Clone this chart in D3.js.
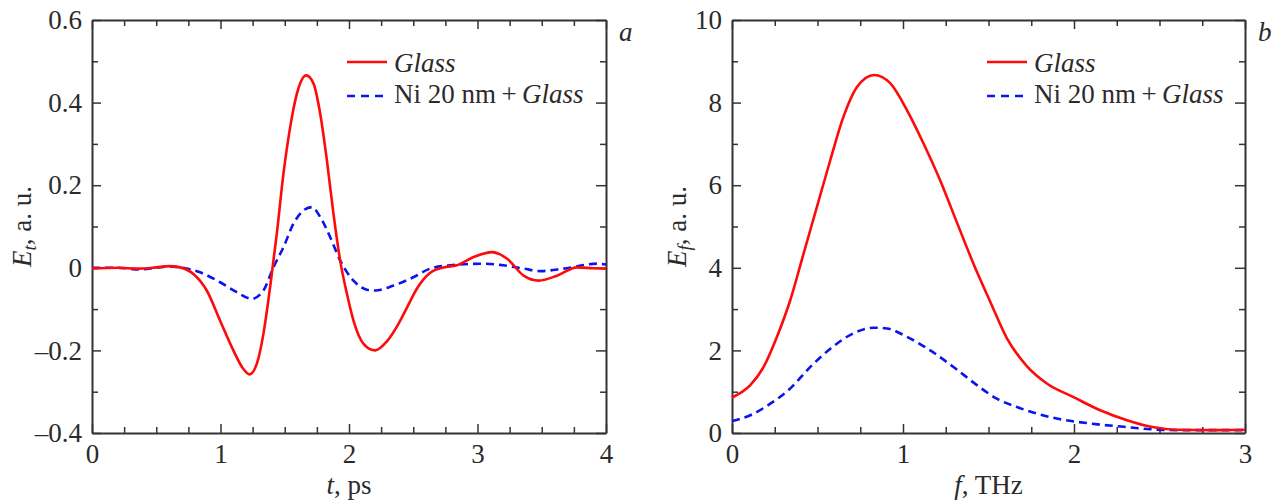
<!DOCTYPE html>
<html>
<head>
<meta charset="utf-8">
<script src="https://cdn.jsdelivr.net/npm/d3@7"></script>
<style>
  html, body { margin: 0; padding: 0; background: #fff; }
  svg { display: block; }
  text { font-family: "Liberation Serif", "Times New Roman", serif; fill: #2b2b2b; }
</style>
</head>
<body>
<svg id="chart" width="1278" height="504"></svg>
<script>
// ---------- Data: panel a (time domain) ----------
const timeGlassT = [0, 0.2, 0.35, 0.5, 0.6, 0.685, 0.789, 0.893, 0.997, 1.10, 1.178, 1.225, 1.283, 1.334, 1.386, 1.438, 1.49, 1.542, 1.594, 1.667, 1.724, 1.776, 1.828, 1.879, 1.931, 1.984, 2.035, 2.113, 2.204, 2.295, 2.386, 2.45, 2.529, 2.632, 2.736, 2.84, 2.97, 3.113, 3.23, 3.359, 3.476, 3.619, 3.775, 3.9, 4.0];
const timeGlassE = [-0.002, 0.0, -0.002, 0.001, 0.004, 0.001, -0.015, -0.055, -0.128, -0.2, -0.245, -0.258, -0.232, -0.16, -0.047, 0.082, 0.228, 0.34, 0.421, 0.466, 0.446, 0.373, 0.26, 0.131, 0.018, -0.063, -0.128, -0.184, -0.2, -0.178, -0.135, -0.097, -0.05, -0.012, 0.001, 0.006, 0.026, 0.038, 0.022, -0.019, -0.031, -0.019, 0.001, -0.001, -0.002];

const timeNiT = [0, 0.2, 0.37, 0.5, 0.6, 0.685, 0.841, 0.997, 1.127, 1.244, 1.334, 1.412, 1.49, 1.568, 1.646, 1.711, 1.776, 1.854, 1.931, 2.035, 2.139, 2.204, 2.347, 2.5, 2.632, 2.788, 3.048, 3.2, 3.36, 3.489, 3.67, 3.93, 4.0];
const timeNiE = [0, 0, -0.004, 0.0, 0.003, 0.001, -0.011, -0.035, -0.059, -0.075, -0.055, 0.001, 0.05, 0.107, 0.139, 0.147, 0.123, 0.074, 0.018, -0.031, -0.053, -0.055, -0.043, -0.023, -0.002, 0.006, 0.01, 0.006, -0.002, -0.008, -0.002, 0.01, 0.008];

// ---------- Data: panel b (frequency domain) ----------
const freqGlassF = [0, 0.107, 0.185, 0.263, 0.341, 0.419, 0.497, 0.575, 0.652, 0.731, 0.832, 0.925, 1.023, 1.12, 1.217, 1.315, 1.412, 1.51, 1.607, 1.724, 1.841, 1.997, 2.153, 2.31, 2.45, 2.6, 2.8, 3.0];
const freqGlassE = [0.86, 1.16, 1.60, 2.33, 3.22, 4.35, 5.48, 6.61, 7.66, 8.38, 8.67, 8.47, 7.82, 7.01, 6.12, 5.1, 4.1, 3.18, 2.3, 1.62, 1.20, 0.87, 0.55, 0.31, 0.15, 0.08, 0.07, 0.08];

const freqNiF = [0, 0.107, 0.224, 0.341, 0.458, 0.575, 0.69, 0.828, 0.906, 1.023, 1.159, 1.295, 1.432, 1.549, 1.666, 1.743, 1.9, 2.094, 2.29, 2.45, 2.6, 3.0];
const freqNiE = [0.29, 0.43, 0.71, 1.08, 1.60, 2.04, 2.37, 2.55, 2.53, 2.33, 2.0, 1.6, 1.16, 0.83, 0.63, 0.52, 0.35, 0.23, 0.15, 0.09, 0.07, 0.07];

// ---------- Ticks ----------
const aXTicks = [0, 1, 2, 3, 4];
const aXMinor = [0.25, 0.5, 0.75, 1.25, 1.5, 1.75, 2.25, 2.5, 2.75, 3.25, 3.5, 3.75];
const aYTicks = [-0.4, -0.2, 0, 0.2, 0.4, 0.6];
const aYTickLabels = ["\u20130.4", "\u20130.2", "0", "0.2", "0.4", "0.6"];
const aYMinor = [-0.3, -0.1, 0.1, 0.3, 0.5];

const bXTicks = [0, 1, 2, 3];
const bXMinor = [0.25, 0.5, 0.75, 1.25, 1.5, 1.75, 2.25, 2.5, 2.75];
const bYTicks = [0, 2, 4, 6, 8, 10];
const bYTickLabels = ["0", "2", "4", "6", "8", "10"];
const bYMinor = [1, 3, 5, 7, 9];

const legendLabels = ["Glass", "Ni 20 nm\u2009+\u2009"];
const legendItalic = ["", "Glass"];

const svg = d3.select("#chart");
const FS = 27;
const AXIS_COLOR = "#333";

function drawPanel(cfg) {
  const x = d3.scaleLinear().domain(cfg.xDomain).range([cfg.left, cfg.right]);
  const y = d3.scaleLinear().domain(cfg.yDomain).range([cfg.bottom, cfg.top]);
  const g = svg.append("g");

  function styleAxis(sel) {
    sel.selectAll("path.domain").attr("stroke", AXIS_COLOR).attr("stroke-width", 2);
    sel.selectAll(".tick line").attr("stroke", AXIS_COLOR).attr("stroke-width", 1.5);
    sel.selectAll(".tick text").style("font-size", FS + "px").attr("fill", "#2b2b2b")
      .style("font-family", '"Liberation Serif", serif');
  }

  const bottom = g.append("g").attr("transform", `translate(0,${cfg.bottom})`)
    .call(d3.axisBottom(x).tickValues(cfg.xTicks).tickSizeInner(-9).tickSizeOuter(0).tickPadding(11).tickFormat(d3.format("d")));
  styleAxis(bottom);
  const bottomMinor = g.append("g").attr("transform", `translate(0,${cfg.bottom})`)
    .call(d3.axisBottom(x).tickValues(cfg.xMinor).tickSizeInner(-6).tickSizeOuter(0).tickFormat(""));
  styleAxis(bottomMinor); bottomMinor.select("path.domain").remove();

  const top = g.append("g").attr("transform", `translate(0,${cfg.top})`)
    .call(d3.axisTop(x).tickValues(cfg.xTicks).tickSizeInner(-9).tickSizeOuter(0).tickFormat(""));
  styleAxis(top);
  const topMinor = g.append("g").attr("transform", `translate(0,${cfg.top})`)
    .call(d3.axisTop(x).tickValues(cfg.xMinor).tickSizeInner(-6).tickSizeOuter(0).tickFormat(""));
  styleAxis(topMinor); topMinor.select("path.domain").remove();

  const left = g.append("g").attr("transform", `translate(${cfg.left},0)`)
    .call(d3.axisLeft(y).tickValues(cfg.yTicks).tickSizeInner(-9).tickSizeOuter(0).tickPadding(10)
      .tickFormat((d, i) => cfg.yTickLabels[i]));
  styleAxis(left);
  const leftMinor = g.append("g").attr("transform", `translate(${cfg.left},0)`)
    .call(d3.axisLeft(y).tickValues(cfg.yMinor).tickSizeInner(-6).tickSizeOuter(0).tickFormat(""));
  styleAxis(leftMinor); leftMinor.select("path.domain").remove();

  const right = g.append("g").attr("transform", `translate(${cfg.right},0)`)
    .call(d3.axisRight(y).tickValues(cfg.yTicks).tickSizeInner(-10).tickSizeOuter(0).tickFormat(""));
  styleAxis(right);
  const rightMinor = g.append("g").attr("transform", `translate(${cfg.right},0)`)
    .call(d3.axisRight(y).tickValues(cfg.yMinor).tickSizeInner(-6).tickSizeOuter(0).tickFormat(""));
  styleAxis(rightMinor); rightMinor.select("path.domain").remove();

  const line = d3.line().x(d => x(d[0])).y(d => y(d[1])).curve(d3.curveMonotoneX);
  g.append("path").datum(d3.zip(cfg.nX, cfg.nY)).attr("d", line)
    .attr("fill", "none").attr("stroke", "#0a14f0").attr("stroke-width", 2.6)
    .attr("stroke-dasharray", "8,5");
  g.append("path").datum(d3.zip(cfg.gX, cfg.gY)).attr("d", line)
    .attr("fill", "none").attr("stroke", "#ff0a0a").attr("stroke-width", 2.6);

  const lg = g.append("g");
  lg.append("line").attr("x1", cfg.legX).attr("x2", cfg.legX + 40).attr("y1", 62).attr("y2", 62)
    .attr("stroke", "#ff0a0a").attr("stroke-width", 2.6);
  lg.append("line").attr("x1", cfg.legX).attr("x2", cfg.legX + 40).attr("y1", 96).attr("y2", 96)
    .attr("stroke", "#0a14f0").attr("stroke-width", 2.6).attr("stroke-dasharray", "8,6");
  const t1 = lg.append("text").attr("x", cfg.legX + 47).attr("y", 72).style("font-size", FS + "px");
  t1.append("tspan").style("font-style", "italic").text(legendLabels[0]);
  const t2 = lg.append("text").attr("x", cfg.legX + 47).attr("y", 103).style("font-size", FS + "px");
  t2.append("tspan").text(legendLabels[1]);
  t2.append("tspan").style("font-style", "italic").text(legendItalic[1]);

  g.append("text").attr("x", cfg.letterX).attr("y", 41).style("font-size", FS + "px")
    .style("font-style", "italic").text(cfg.letter);

  const xt = g.append("text").attr("x", (cfg.left + cfg.right) / 2).attr("y", 494)
    .attr("text-anchor", "middle").style("font-size", FS + "px");
  xt.append("tspan").style("font-style", "italic").text(cfg.xVar);
  xt.append("tspan").text(cfg.xUnit);

  const yt = g.append("text")
    .attr("transform", `translate(${cfg.yTitleX},${(cfg.top + cfg.bottom) / 2}) rotate(-90)`)
    .attr("text-anchor", "middle").style("font-size", FS + "px");
  yt.append("tspan").style("font-style", "italic").text("E");
  yt.append("tspan").style("font-style", "italic").style("font-size", "19px").attr("dy", 5).text(cfg.ySub);
  yt.append("tspan").attr("dy", -5).text(", a. u.");
}

drawPanel({
  left: 92, right: 606, top: 20, bottom: 433,
  xDomain: [0, 4], yDomain: [-0.4, 0.6],
  xTicks: aXTicks, xMinor: aXMinor, yTicks: aYTicks, yTickLabels: aYTickLabels, yMinor: aYMinor,
  gX: timeGlassT, gY: timeGlassE, nX: timeNiT, nY: timeNiE,
  legX: 347, letter: "a", letterX: 619, xVar: "t", xUnit: ", ps", ySub: "t", yTitleX: 31
});

drawPanel({
  left: 732, right: 1245, top: 20, bottom: 433,
  xDomain: [0, 3], yDomain: [0, 10],
  xTicks: bXTicks, xMinor: bXMinor, yTicks: bYTicks, yTickLabels: bYTickLabels, yMinor: bYMinor,
  gX: freqGlassF, gY: freqGlassE, nX: freqNiF, nY: freqNiE,
  legX: 987, letter: "b", letterX: 1258, xVar: "f", xUnit: ", THz", ySub: "f", yTitleX: 686
});
</script>
</body>
</html>
